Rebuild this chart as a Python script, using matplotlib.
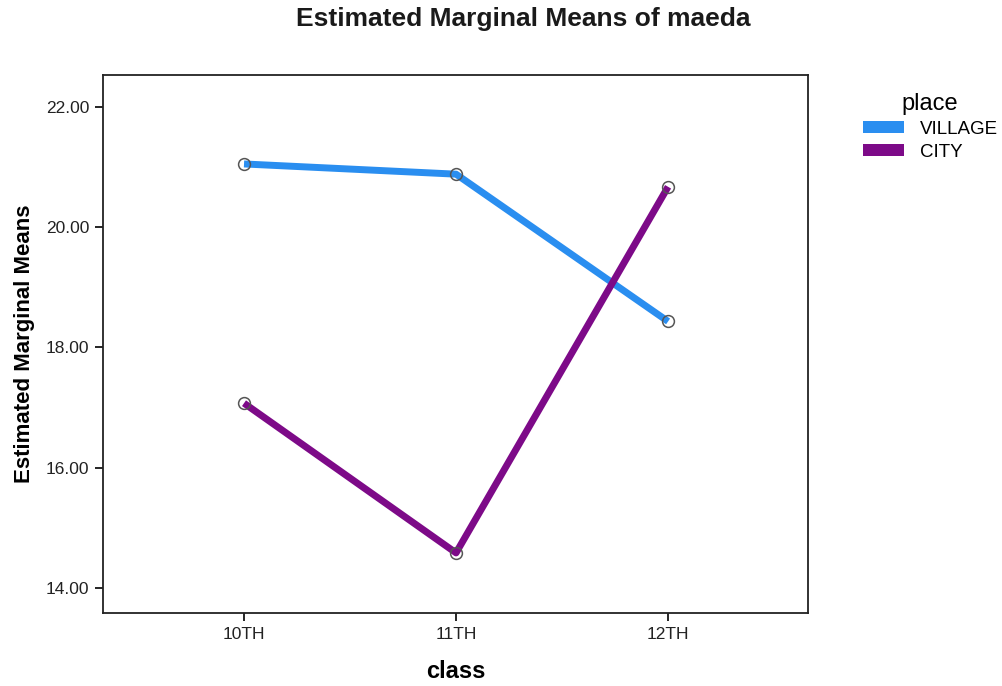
import matplotlib
matplotlib.use("Agg")
import matplotlib.pyplot as plt
from matplotlib.patches import Patch

plt.rcParams["font.family"] = ["Liberation Sans", "DejaVu Sans"]

classes = ["10TH", "11TH", "12TH"]
village = [21.05, 20.88, 18.43]
city = [17.07, 14.58, 20.67]
series_names = ["VILLAGE", "CITY"]
series_colors = ["#2a8ef0", "#7d0a88"]

fig = plt.figure(figsize=(10.03, 6.86), dpi=100)
ax = fig.add_axes([0.1027, 0.1064, 0.7029, 0.7843])

x = range(len(classes))
for vals, color in zip([village, city], series_colors):
    ax.plot(x, vals, color=color, lw=5, solid_capstyle="butt", zorder=2)
    ax.plot(x, vals, ls="none", marker="o", ms=8.5, mfc="none",
            mec="#555555", mew=1.1, zorder=3)

ax.set_xlim(-0.665, 2.66)
ax.set_ylim(13.58, 22.53)
ax.set_xticks(list(x))
ax.set_xticklabels(classes, fontsize=12.5, color="#222222")
ax.set_yticks([14, 16, 18, 20, 22])
ax.set_yticklabels([f"{v:.2f}" for v in [14, 16, 18, 20, 22]], fontsize=12.5, color="#222222")
ax.tick_params(direction="out", length=6, width=1.2, pad=4, top=False, right=False)
for s in ax.spines.values():
    s.set_linewidth(1.3)
    s.set_color("#222222")

ax.set_xlabel("class", fontsize=17, fontweight="bold", labelpad=13)
ax.set_ylabel("Estimated Marginal Means", fontsize=16, fontweight="bold", labelpad=8)
fig.text(0.522, 0.972, "Estimated Marginal Means of maeda", ha="center", va="center",
         fontsize=19, fontweight="bold", color="#1a1a1a")

handles = [Patch(facecolor=c, edgecolor="none") for c in series_colors]
leg = fig.legend(handles, series_names, title="place", loc="upper left",
                 bbox_to_anchor=(0.860, 0.864), frameon=False, fontsize=13.5,
                 title_fontsize=17, handlelength=2.2, handleheight=0.6,
                 handletextpad=0.85, labelspacing=0.3, borderpad=0,
                 borderaxespad=0)

fig.savefig("out.png", dpi=100)
